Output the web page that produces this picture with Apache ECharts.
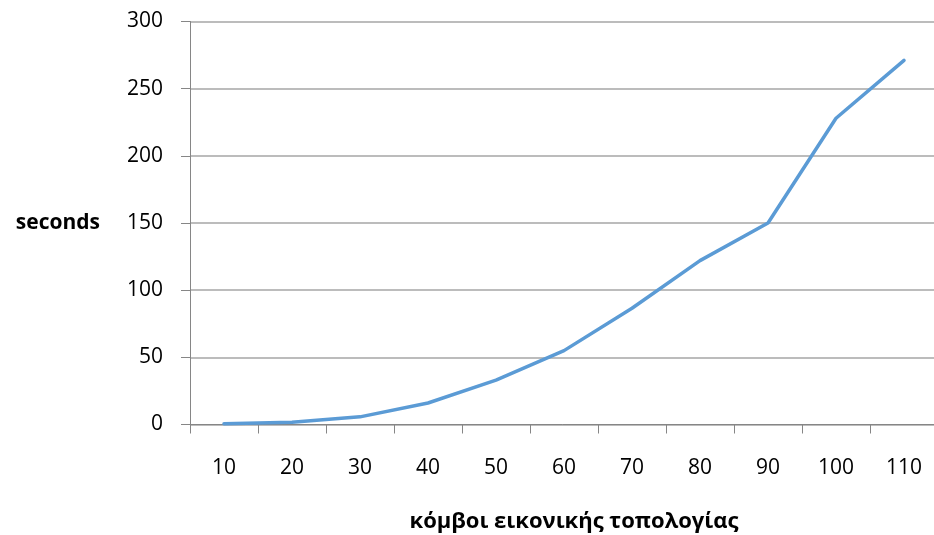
<!DOCTYPE html>
<html>
<head>
<meta charset="utf-8">
<script src="https://cdn.jsdelivr.net/npm/echarts@6/dist/echarts.min.js"></script>
<style>
  html, body { margin: 0; padding: 0; background: #ffffff; }
  #chart { width: 934px; height: 535px; }
</style>
</head>
<body>
<div id="chart"></div>
<script>
// Run time (seconds) against number of virtual topology nodes
const nodeCounts = ['10', '20', '30', '40', '50', '60', '70', '80', '90', '100', '110'];
const seconds = [0.5, 1.7, 5.7, 16, 33, 55, 86.5, 122, 150, 228, 271];
const yTicks = { min: 0, max: 300, step: 50 };
const xTitle = 'κόμβοι εικονικής τοπολογίας';
const yTitle = 'seconds';

const font = '"Open Sans", "Noto Sans", sans-serif';
const chart = echarts.init(document.getElementById('chart'), null, { renderer: 'canvas' });

chart.setOption({
  animation: false,
  backgroundColor: '#ffffff',
  grid: { left: 190, top: 21.5, width: 748, height: 403, containLabel: false, outerBoundsMode: 'none' },
  xAxis: {
    type: 'category',
    data: nodeCounts,
    boundaryGap: true,
    name: xTitle,
    nameLocation: 'middle',
    nameGap: 86,
    nameTextStyle: { fontFamily: font, fontWeight: 'bold', fontSize: 22, color: '#000000', padding: [0, 0, 0, 20] },
    axisLine: { lineStyle: { color: '#868686', width: 1 } },
    axisTick: { show: true, length: 9, alignWithLabel: false, lineStyle: { color: '#868686' } },
    axisLabel: { fontFamily: font, fontSize: 21, color: '#000000', margin: 33 },
    splitLine: { show: false }
  },
  yAxis: {
    type: 'value',
    min: yTicks.min,
    max: yTicks.max,
    interval: yTicks.step,
    name: yTitle,
    nameLocation: 'middle',
    nameRotate: 0,
    nameGap: 90,
    nameTextStyle: { fontFamily: font, fontWeight: 'bold', fontSize: 21, color: '#000000' },
    axisLine: { show: true, lineStyle: { color: '#868686', width: 1 } },
    axisTick: { show: true, length: 9, lineStyle: { color: '#868686' } },
    axisLabel: { fontFamily: font, fontSize: 21, color: '#000000', margin: 27 },
    splitLine: { show: true, lineStyle: { color: '#a6a6a6', width: 1.5 } }
  },
  series: [{
    type: 'line',
    data: seconds,
    symbol: 'none',
    lineStyle: { color: '#5b9bd5', width: 3.5, cap: 'round', join: 'round' },
    z: 3
  }]
});
</script>
</body>
</html>
